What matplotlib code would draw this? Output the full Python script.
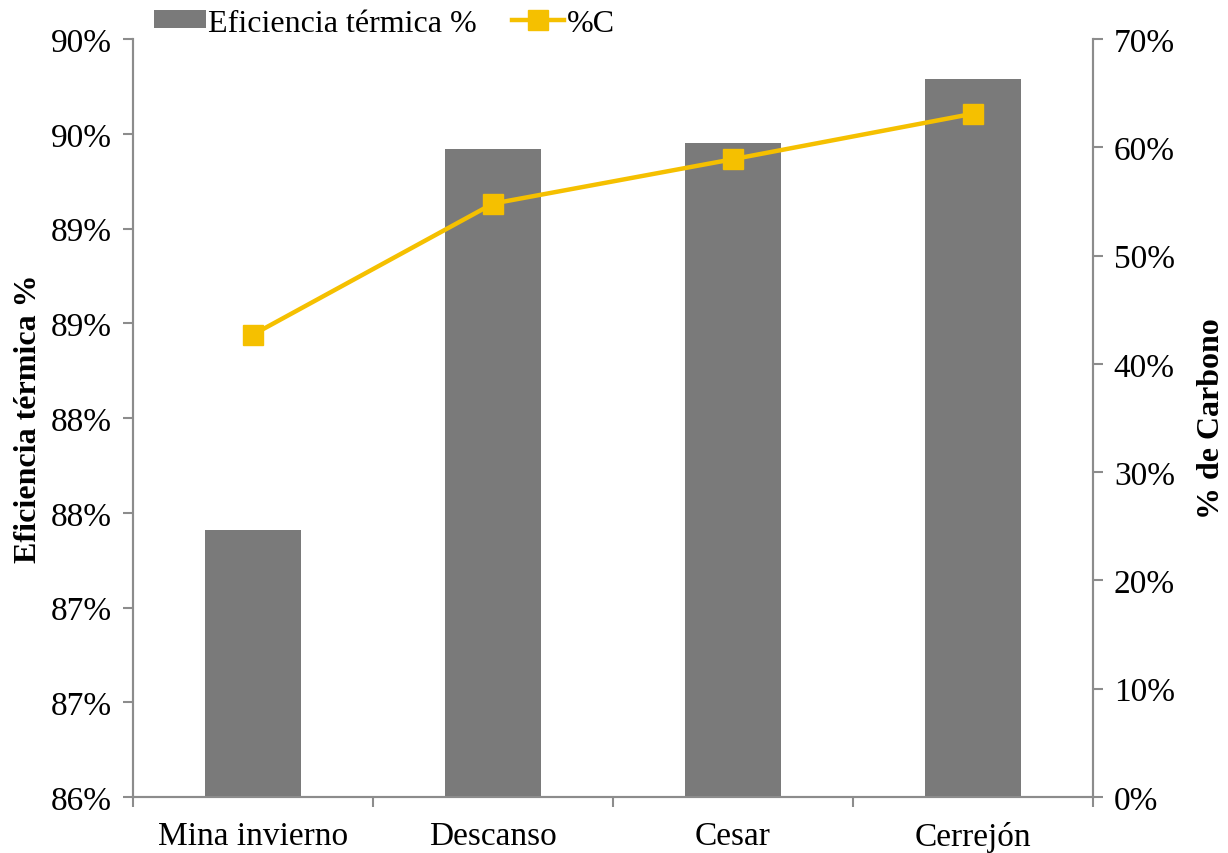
import matplotlib
matplotlib.use("Agg")
import matplotlib.pyplot as plt
from matplotlib.ticker import FuncFormatter, MultipleLocator
import numpy as np

plt.rcParams['font.family'] = ['Liberation Serif', 'DejaVu Serif']

categories = ["Mina invierno", "Descanso", "Cesar", "Cerrejón"]
eficiencia = [87.41, 89.42, 89.45, 89.79]      # % eficiencia térmica
carbono = [42.7, 54.8, 58.9, 63.1]              # % de carbono

bar_color = "#7a7a7a"
line_color = "#f5c000"
spine_color = "#8c8c8c"
fs = 24

fig = plt.figure(figsize=(12.28, 8.54), dpi=100)
ax = fig.add_axes([133/1228, 1-798/854, 960/1228, 758/854])
x = np.arange(len(categories))

bars = ax.bar(x, eficiencia, width=0.4, color=bar_color, zorder=2,
              label="Eficiencia térmica %")
ax.set_ylim(86, 90)
ax.set_xlim(-0.5, len(categories) - 0.5)
ax.yaxis.set_major_locator(MultipleLocator(0.5))
ax.yaxis.set_major_formatter(FuncFormatter(lambda v, p: f"{int(np.floor(v + 0.5))}%"))
ax.set_xticks(x)
ax.set_xticklabels(categories)
ax.set_xticks(np.arange(-0.5, len(categories)), minor=True)
ax.tick_params(axis='x', which='major', length=0, pad=17, labelsize=fs)
ax.tick_params(axis='x', which='minor', length=7, color=spine_color, width=1.5, direction='out')
ax.tick_params(axis='y', length=7, color=spine_color, width=1.5, labelsize=fs, pad=8)
ax.set_ylabel("Eficiencia térmica %", fontsize=23, fontweight='bold', labelpad=6)

ax2 = ax.twinx()
line, = ax2.plot(x, carbono, color=line_color, lw=3.2, marker='s', markersize=14,
                 zorder=3, label="%C")
ax2.set_ylim(0, 70)
ax2.yaxis.set_major_locator(MultipleLocator(10))
ax2.yaxis.set_major_formatter(FuncFormatter(lambda v, p: f"{int(round(v))}%"))
ax2.tick_params(axis='y', length=7, color=spine_color, width=1.5, labelsize=fs, pad=8)
ax2.set_ylabel("% de Carbono", fontsize=23, fontweight='bold', rotation=90, labelpad=16)

for a in (ax, ax2):
    a.spines['top'].set_visible(False)
    for s in ('left', 'right', 'bottom'):
        a.spines[s].set_color(spine_color)
        a.spines[s].set_linewidth(1.5)

fig.legend(handles=[bars, line], labels=["Eficiencia térmica %", "%C"],
           loc='center left', bbox_to_anchor=(154/1228, 1 - 24/854), ncol=2, frameon=False,
           fontsize=23, handlelength=1.62, handleheight=0.5, handletextpad=0.08,
           columnspacing=1.1, borderaxespad=0.0, borderpad=0.0)

fig.savefig("out.png", dpi=100)
